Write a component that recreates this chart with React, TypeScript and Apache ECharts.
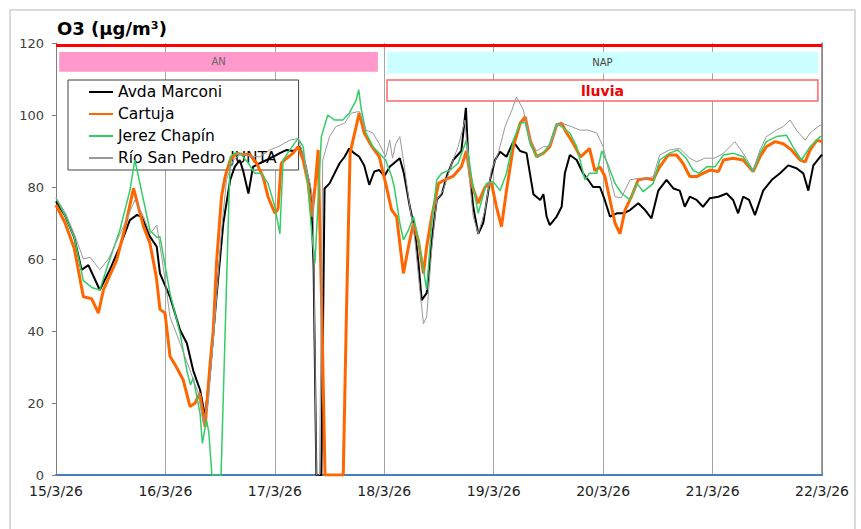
import React, { useEffect, useRef } from "react";
import * as echarts from "echarts";

// x values are hours after 15/3/26 00:00
const dayLabels = ["15/3/26", "16/3/26", "17/3/26", "18/3/26", "19/3/26", "20/3/26", "21/3/26", "22/3/26"];
const seriesNames = ["Avda Marconi", "Cartuja", "Jerez Chapín", "Río San Pedro JUNTA"];

const marconi: number[][] = [
  [0,76],[2,72],[4,66],[5.6,57],[7.1,58.3],[8.3,55],[9.6,51.4],[11.8,57],[14,63.4],[16.2,70.8],[17.7,72.2],[18.8,71.8],[20.6,66.2],[22.1,63.4],[22.8,56],[25,49.5],[27.2,40.3],[28.7,36.6],[30.1,29],[31.6,23.6],[32.7,16.2],[33.8,29],[35.2,49.5],[36.7,70],[38.2,82],[39.2,85.6],[40.3,87.5],[41,84.7],[42.2,78.2],[43.2,85.6],[44.7,86.6],[46.2,87.5],[47.6,88.4],[49.1,89.4],[50.6,90.3],[52,90],[53.5,91.2],[54.6,86.6],[55.7,80],[56.1,71.8],[56.5,58],[57.1,0],[58.2,0],[58.9,79.6],[60,81],[61.1,83.8],[62.2,86.6],[63.3,88.4],[64.3,90.7],[65.4,89.4],[66.5,88.4],[67.6,86],[68.7,80.6],[69.8,84.3],[70.9,84.7],[72,83],[73.2,85.6],[75.4,88],[76.3,83.8],[77.6,74.5],[78.7,68],[79.5,58.8],[80.2,48.6],[81.3,50.5],[82.4,65],[83.5,76.4],[84.6,78],[85.7,83],[87.1,87.5],[88.9,90],[89.9,102],[90.4,88.4],[91.5,74.5],[92.6,67],[93.7,70],[95.2,82],[96.3,87.5],[97.4,89.8],[98.8,88.4],[100.3,92.6],[101.8,90],[103.2,89.4],[104.7,78],[106.2,76.4],[106.9,78],[107.6,71.8],[108.3,69.4],[109.8,71.8],[110.9,74.5],[111.6,83.8],[112.7,88.9],[114.2,87.5],[115.6,83.8],[116.7,82],[117.8,80],[119.3,80],[120.2,77],[121.5,71.8],[123,72.7],[124.5,72.7],[125.9,73.6],[127.7,75.5],[129.2,73.6],[130.6,71.3],[132.1,79],[133.9,82],[135.4,79.6],[136.8,79],[137.9,74.5],[139,77.3],[140.5,76.4],[141.9,74.5],[143.4,76.9],[145.3,77.3],[147.1,78.2],[148.5,76.4],[149.6,72.7],[150.7,77.3],[152,76.4],[153.3,72.2],[155.1,79],[157,82],[158.8,83.8],[160.6,86],[162.4,85.2],[163.9,83.8],[165,79],[166.1,86],[167.6,88.4],[168,89]
];

const cartuja: number[][] = [
  [0,75],[2,70],[4,63],[6,49.5],[7.8,49],[9.3,45],[10.4,51.4],[13.3,59.7],[15,68],[17,79.6],[19.2,69],[20.6,64.4],[22,55],[22.8,46],[23.9,45],[25,33],[26.4,30],[27.9,26.4],[29.4,19],[30.5,20],[31.5,22.7],[32.7,13.4],[33.8,31],[34.5,40.3],[35.2,58.8],[36.3,77.3],[37.1,82.9],[38.2,87.5],[39.6,89.4],[41,89],[42.5,89],[44,86.6],[45.4,82.9],[46.5,77.3],[48,72.7],[48.7,74],[49.4,86.6],[50.6,88],[52,89.4],[53.1,91.2],[54.2,87.5],[55.3,81],[56.1,71.8],[56.8,80],[57.5,90.3],[58.3,45],[59,0],[63,0],[63.7,45],[64.5,89.4],[66.5,100.5],[67.6,95],[69.3,91.2],[70.9,88.4],[72.3,81],[73.6,73.6],[74.7,71.8],[76.2,56],[77.3,63.4],[78.4,70],[79.5,65],[80.6,56],[81.3,63.4],[82.4,71.8],[83.9,81],[85.3,82],[87.1,83],[88.9,85.6],[90,90],[91.1,81],[92.6,75.5],[94.1,80],[95.5,81],[96.6,74.5],[97.7,69],[98.8,79],[100.3,91.2],[101.8,97.7],[102.9,99.5],[104,93],[105.4,88.4],[106.9,89.4],[108.3,91.2],[109.8,97.2],[110.9,97.7],[112,95],[113.5,92],[115,88.4],[116,89.5],[117,90.7],[118.2,84.5],[119.3,85.6],[120.4,82.9],[121.5,76.4],[122.6,70],[123.7,67],[124.8,73.6],[126.2,77.3],[127.7,82],[129.5,82.4],[131,82],[132.4,85.6],[134.3,88.9],[136.1,88.9],[137.5,86.6],[139,82.9],[140.5,82.9],[141.9,83.8],[143.4,84.7],[145.3,84.3],[146.4,87.5],[148.5,88],[150.7,87.5],[152.9,84.3],[154.4,88.4],[155.8,91.2],[157.7,92.6],[159.5,92],[161.3,90.3],[163.2,87.5],[164.3,87],[165.4,90.3],[166.9,93],[168,92.6]
];

const jerez: number[][] = [
  [0,77],[2,72],[4,66],[6,54],[8,52],[9.6,51.4],[11.5,58.8],[14,68],[16.2,79],[17.3,87.5],[18.4,81],[20.6,68],[22.1,66],[22.8,66.2],[25,50.5],[27.2,39.4],[28.7,29],[29.5,25],[30.1,27],[31.6,17],[32.1,8.8],[33,15.3],[33.5,12],[34.2,0],[36.2,0],[38.2,88.4],[39.2,89.4],[40.6,89],[42.2,86.6],[43.6,83.8],[45,83.8],[46.5,81],[48,74.5],[49.1,67],[49.8,87.5],[51.3,90.3],[53.1,93.5],[54.2,91.2],[55.3,80],[56.1,67],[56.8,58.8],[57.5,76.4],[58.2,94],[59.6,100],[61.1,98.6],[62.9,98.6],[64.3,100.5],[65.8,104],[66.4,107],[66.9,102],[68,95],[69.5,91.2],[70.9,89.4],[72.3,87.5],[73.6,83],[74.2,80],[75.4,70],[76.2,65.3],[77.3,68],[78.4,71.8],[79.5,65.3],[80.6,57],[81.3,51.4],[82.4,70],[83.5,82],[84.6,83.8],[86.4,84.7],[88.2,86.6],[90,93],[91.1,83],[92.6,72.7],[94.4,81],[95.9,81.5],[97.4,79],[98.8,83.8],[100.3,93],[101.8,97.7],[102.9,98],[104,92],[105.4,88.4],[106.9,89.4],[108.3,92],[109.8,97.7],[110.9,96.8],[112.7,95],[114.2,91.2],[115.3,85.6],[116,82],[117,83.8],[118.6,83.8],[119.7,90],[120.8,87],[122.6,81],[124.1,78.2],[125.9,76.4],[127.4,81],[128.8,78.7],[131,81],[132.4,87.5],[134.6,89.4],[136.4,90.3],[138.2,88],[139.7,84.7],[141,83.8],[142.7,85.6],[144.5,85.6],[146.4,88.9],[148.5,89.4],[150.7,88.4],[152.9,84.3],[154.4,89.4],[155.8,92.6],[158,94],[160.2,94.4],[161.6,91.2],[163.5,87.5],[165.4,91.2],[167.6,94],[168,94]
];

const rioSanPedro: number[][] = [
  [0,77],[2,73],[4,67],[6,60],[7.5,60.5],[9.6,57],[11.5,60],[14.8,69],[17.3,76.4],[19.2,71.8],[20.6,67],[22.1,69.4],[23.5,58],[25,44],[27.2,36.6],[29.4,29],[31.2,22.7],[32.3,14.4],[33.4,20],[34.9,44],[36.3,68],[37.4,82],[38.9,87.5],[40.7,89.4],[42.5,88.5],[44.7,88.4],[46.9,90.3],[48.7,91.2],[51.3,93],[53.1,93.5],[54.5,87.5],[55.7,81],[56.4,76.4],[57.1,0],[57.8,0],[58.5,87.5],[60,94],[61.4,96.8],[63.3,97.7],[64.7,100.5],[66.5,101],[68,95.8],[69.5,95],[70.9,92],[72.3,88.4],[73.2,93],[73.8,88],[74.5,92],[75.4,94],[76.3,86.6],[77.6,74.5],[78.7,65.3],[79.8,51.4],[80.6,42],[81.3,44],[82.4,62.5],[83.5,76.4],[84.9,79],[86.8,86.6],[88.2,91.2],[89.7,98.6],[90.4,85.6],[91.5,71.8],[92.6,67],[94.1,73.6],[95.5,84.7],[97,89.4],[98.5,96.8],[100,101.4],[101,105],[102.5,101.4],[104,93],[105.4,90],[106.9,91.2],[108.3,91.2],[109.8,96.8],[111,97.7],[113,96.8],[114.9,95.8],[116.7,95.8],[118.6,95],[120,91.2],[121.5,82.9],[122.6,77.3],[124,77],[125.9,82],[127.7,82.4],[129.5,82.4],[131,82.9],[132.4,88.9],[134.6,90.3],[136.8,90.7],[139,88],[140.5,87],[142.3,88],[144.5,88],[146.4,89.4],[148.9,92.6],[150.7,89.4],[152.9,84.7],[154.4,90.3],[155.8,94],[158,95.8],[159.5,96.8],[161,98.6],[162.4,95.8],[164.3,93],[165.4,95],[167.6,97.2],[168,97]
];

// annotation bands: [fromHour, toHour, lowValue, highValue]
const bandAN = [0.7, 70.6, 112, 117.5];
const bandNAP = [72.6, 167.1, 111.5, 117.5];
const bandLluvia = [72.6, 167.1, 103.9, 109.7];
const topLineValue = 119.3;

const FONT = "DejaVu Sans";

export default function App() {
  const ref = useRef<HTMLDivElement>(null);
  useEffect(() => {
    if (!ref.current) return;
    const chart = echarts.init(ref.current, undefined, { renderer: "svg" });
    const colors = ["#000000", "#ff6600", "#33cc66", "#999999"];
    const widths = [2, 3, 1.5, 1];
    const datasets = [marconi, cartuja, jerez, rioSanPedro];
    const series: any[] = datasets.map((d, i) => ({
      name: seriesNames[i],
      type: "line",
      data: d,
      symbol: "none",
      showSymbol: false,
      lineStyle: { color: colors[i], width: widths[i] },
      itemStyle: { color: colors[i] },
      z: 2,
    }));
    series[0].markArea = {
      silent: true,
      data: [
        [
          {
            name: "AN",
            xAxis: bandAN[0],
            yAxis: bandAN[3],
            itemStyle: { color: "#ff99cc" },
            label: { show: true, position: "inside", color: "#666", fontSize: 10, fontFamily: FONT },
          },
          { xAxis: bandAN[1], yAxis: bandAN[2] },
        ],
        [
          {
            name: "NAP",
            xAxis: bandNAP[0],
            yAxis: bandNAP[3],
            itemStyle: { color: "#ccffff" },
            label: { show: true, position: "inside", color: "#444", fontSize: 10, fontFamily: FONT },
          },
          { xAxis: bandNAP[1], yAxis: bandNAP[2] },
        ],
        [
          {
            name: "lluvia",
            xAxis: bandLluvia[0],
            yAxis: bandLluvia[3],
            itemStyle: { color: "#ffffff", borderColor: "#ff6666", borderWidth: 1.5 },
            label: {
              show: true,
              position: "inside",
              color: "#f00000",
              fontSize: 14,
              fontWeight: "bold",
              fontFamily: FONT,
            },
          },
          { xAxis: bandLluvia[1], yAxis: bandLluvia[2] },
        ],
      ],
    };
    series[0].markLine = {
      silent: true,
      symbol: "none",
      label: { show: false },
      lineStyle: { color: "#ff0000", width: 3, type: "solid" },
      data: [{ yAxis: topLineValue }],
    };

    chart.setOption({
      animation: false,
      backgroundColor: "#ffffff",
      title: {
        text: "O3 (µg/m³)",
        left: 57,
        top: 19,
        padding: 0,
        textStyle: { fontFamily: FONT, fontSize: 18, fontWeight: "bold", color: "#000" },
      },
      graphic: [
        {
          type: "rect",
          shape: { x: 10, y: 10, width: 845, height: 540 },
          style: { fill: "none", stroke: "#d0d0d0", lineWidth: 1.5 },
          silent: true,
          z: -1,
        },
      ],
      legend: {
        data: seriesNames,
        orient: "vertical",
        left: 68,
        top: 80,
        itemWidth: 24,
        itemHeight: 14,
        itemGap: 6,
        padding: [4, 22, 4, 20],
        backgroundColor: "#ffffff",
        borderColor: "#404040",
        borderWidth: 1,
        borderRadius: 0,
        z: 1,
        itemStyle: { opacity: 0 },
        textStyle: { fontFamily: FONT, fontSize: 15.5, color: "#000" },
      },
      grid: { left: 56, right: 39, top: 43, bottom: 54, containLabel: false },
      xAxis: {
        type: "value",
        min: 0,
        max: 168,
        interval: 24,
        axisLine: { show: true, onZero: false, lineStyle: { color: "#4a7ebb", width: 2 } },
        axisTick: { show: false },
        splitLine: { show: true, lineStyle: { color: "#a6a6a6", width: 1 } },
        axisLabel: {
          margin: 9,
          fontFamily: FONT,
          fontSize: 14,
          color: "#222",
          formatter: (v: number) => dayLabels[Math.round(v / 24)] ?? "",
        },
      },
      yAxis: [
        {
          type: "value",
          min: 0,
          max: 120,
          interval: 20,
          axisLine: { show: true, lineStyle: { color: "#7f7f7f", width: 1 } },
          axisTick: { show: true, inside: false, length: 4, lineStyle: { color: "#7f7f7f" } },
          splitLine: { show: false },
          axisLabel: { margin: 12, fontFamily: FONT, fontSize: 13, color: "#404040" },
        },
        {
          type: "value",
          min: 0,
          max: 120,
          interval: 20,
          position: "right",
          axisLine: { show: true, lineStyle: { color: "#7f7f7f", width: 1.5 } },
          axisTick: { show: false },
          axisLabel: { show: false },
          splitLine: { show: false },
        },
      ],
      series,
    });
    return () => chart.dispose();
  }, []);
  return (
    <div
      ref={ref}
      style={{ position: "fixed", left: 0, top: 0, width: 861, height: 529, background: "#fff" }}
    />
  );
}
